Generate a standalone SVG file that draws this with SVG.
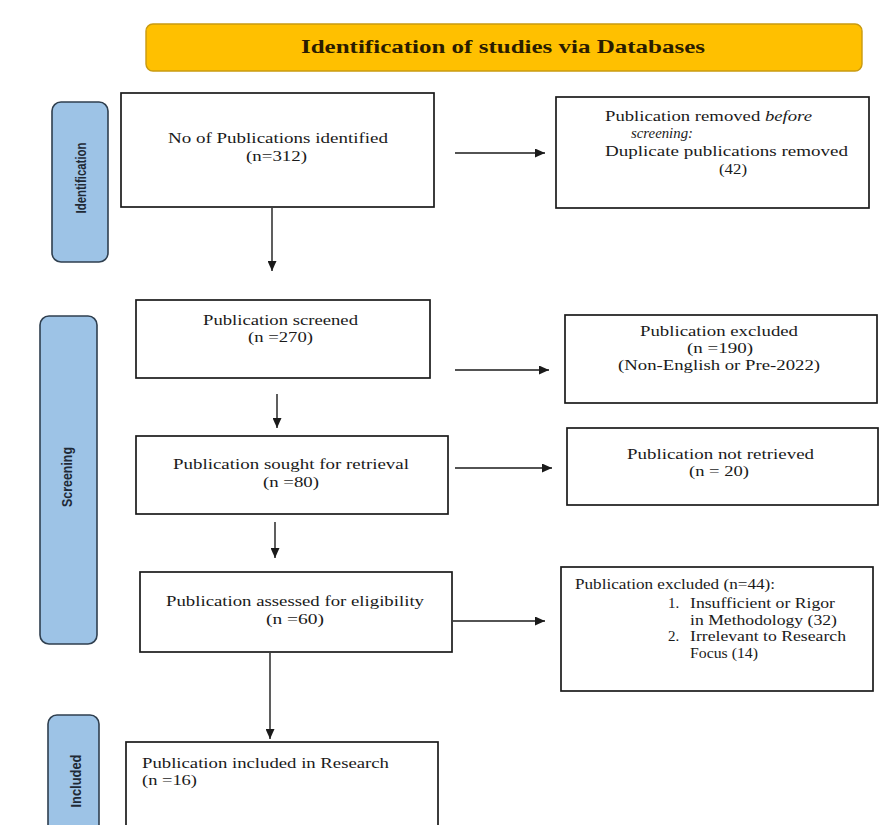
<svg xmlns="http://www.w3.org/2000/svg" width="887" height="825" viewBox="0 0 887 825">
<style>
.bg{fill:#ffffff}
.box{fill:#ffffff;stroke:#1a1a1a;stroke-width:1.7}
.side{fill:#9dc3e6;stroke:#2f3f4f;stroke-width:1.6}
.hdr{fill:#ffc000;stroke:#c99a10;stroke-width:1.4}
.t{font-family:"Liberation Serif","Times New Roman",serif;font-size:15px;fill:#1a1a1a}
.h{font-family:"Liberation Serif","Times New Roman",serif;font-size:19px;font-weight:bold;fill:#2a1c00;text-anchor:middle}
.s{font-family:"Liberation Sans",Arial,sans-serif;font-size:14px;font-weight:bold;fill:#1f2a36;text-anchor:middle}
.conn line{stroke:#1a1a1a;stroke-width:1.4;fill:none}
</style>
<defs>
<marker id="ah" markerUnits="userSpaceOnUse" markerWidth="10" markerHeight="9" refX="10" refY="4.5" orient="auto">
<path d="M0,0 L10,4.5 L0,9 Z" fill="#1a1a1a"/>
</marker>
</defs>
<rect class="bg" x="0" y="0" width="887" height="825"/>

<g id="header">
<rect class="hdr" x="146" y="24" width="716" height="47" rx="7"/>
<text class="h" x="503" y="53" textLength="404" lengthAdjust="spacingAndGlyphs">Identification of studies via Databases</text>
</g>

<g id="phase-identification">
<rect class="side" x="52" y="102" width="56" height="160" rx="9"/>
<text class="s" transform="translate(86,178) rotate(-90)" textLength="71" lengthAdjust="spacingAndGlyphs">Identification</text>
</g>
<g id="phase-screening">
<rect class="side" x="40" y="316" width="57" height="328" rx="9"/>
<text class="s" transform="translate(72,477) rotate(-90)" textLength="60" lengthAdjust="spacingAndGlyphs">Screening</text>
</g>
<g id="phase-included">
<rect class="side" x="48" y="715" width="51" height="130" rx="9"/>
<text class="s" transform="translate(81,781) rotate(-90)" textLength="53" lengthAdjust="spacingAndGlyphs">Included</text>
</g>

<g id="identified">
<rect class="box" x="121" y="93" width="313" height="114"/>
<text class="t" x="168" y="143" textLength="220" lengthAdjust="spacingAndGlyphs">No of Publications identified</text>
<text class="t" x="246" y="161" textLength="61" lengthAdjust="spacingAndGlyphs">(n=312)</text>
</g>

<g id="removed">
<rect class="box" x="556" y="97" width="313" height="111"/>
<text class="t" x="605" y="121" textLength="207" lengthAdjust="spacingAndGlyphs">Publication removed <tspan font-style="italic">before</tspan></text>
<text class="t" x="631" y="138" font-style="italic" textLength="62" lengthAdjust="spacingAndGlyphs">screening:</text>
<text class="t" x="605" y="156" textLength="243" lengthAdjust="spacingAndGlyphs">Duplicate publications removed</text>
<text class="t" x="719" y="174" textLength="28" lengthAdjust="spacingAndGlyphs">(42)</text>
</g>

<g id="screened">
<rect class="box" x="136" y="300" width="294" height="78"/>
<text class="t" x="203" y="325" textLength="155" lengthAdjust="spacingAndGlyphs">Publication screened</text>
<text class="t" x="248" y="342" textLength="65" lengthAdjust="spacingAndGlyphs">(n =270)</text>
</g>

<g id="excluded1">
<rect class="box" x="565" y="315" width="312" height="88"/>
<text class="t" x="640" y="336" textLength="158" lengthAdjust="spacingAndGlyphs">Publication excluded</text>
<text class="t" x="687" y="353" textLength="66" lengthAdjust="spacingAndGlyphs">(n =190)</text>
<text class="t" x="618" y="370" textLength="202" lengthAdjust="spacingAndGlyphs">(Non-English or Pre-2022)</text>
</g>

<g id="sought">
<rect class="box" x="136" y="436" width="312" height="78"/>
<text class="t" x="173" y="469" textLength="236" lengthAdjust="spacingAndGlyphs">Publication sought for retrieval</text>
<text class="t" x="263" y="487" textLength="56" lengthAdjust="spacingAndGlyphs">(n =80)</text>
</g>

<g id="notretrieved">
<rect class="box" x="567" y="428" width="311" height="77"/>
<text class="t" x="627" y="459" textLength="187" lengthAdjust="spacingAndGlyphs">Publication not retrieved</text>
<text class="t" x="689" y="476" textLength="60" lengthAdjust="spacingAndGlyphs">(n = 20)</text>
</g>

<g id="assessed">
<rect class="box" x="140" y="572" width="312" height="80"/>
<text class="t" x="166" y="606" textLength="258" lengthAdjust="spacingAndGlyphs">Publication assessed for eligibility</text>
<text class="t" x="266" y="624" textLength="58" lengthAdjust="spacingAndGlyphs">(n =60)</text>
</g>

<g id="excluded2">
<rect class="box" x="561" y="567" width="312" height="124"/>
<text class="t" x="575" y="589" textLength="200" lengthAdjust="spacingAndGlyphs">Publication excluded (n=44):</text>
<text class="t" x="668" y="608">1.</text>
<text class="t" x="690" y="608" textLength="145" lengthAdjust="spacingAndGlyphs">Insufficient or Rigor</text>
<text class="t" x="690" y="625" textLength="147" lengthAdjust="spacingAndGlyphs">in Methodology (32)</text>
<text class="t" x="668" y="641">2.</text>
<text class="t" x="690" y="641" textLength="156" lengthAdjust="spacingAndGlyphs">Irrelevant to Research</text>
<text class="t" x="690" y="658" textLength="68" lengthAdjust="spacingAndGlyphs">Focus (14)</text>
</g>

<g id="included">
<rect class="box" x="126" y="742" width="312" height="100"/>
<text class="t" x="142" y="768" textLength="247" lengthAdjust="spacingAndGlyphs">Publication included in Research</text>
<text class="t" x="142" y="785" textLength="55" lengthAdjust="spacingAndGlyphs">(n =16)</text>
</g>

<g id="connectors" class="conn">
<line x1="272" y1="208" x2="272" y2="271" marker-end="url(#ah)"/>
<line x1="455" y1="153" x2="545" y2="153" marker-end="url(#ah)"/>
<line x1="277" y1="394" x2="277" y2="428" marker-end="url(#ah)"/>
<line x1="455" y1="370" x2="549" y2="370" marker-end="url(#ah)"/>
<line x1="275" y1="522" x2="275" y2="558" marker-end="url(#ah)"/>
<line x1="455" y1="468" x2="552" y2="468" marker-end="url(#ah)"/>
<line x1="453" y1="621" x2="545" y2="621" marker-end="url(#ah)"/>
<line x1="270" y1="653" x2="270" y2="739" marker-end="url(#ah)"/>
</g>
</svg>
